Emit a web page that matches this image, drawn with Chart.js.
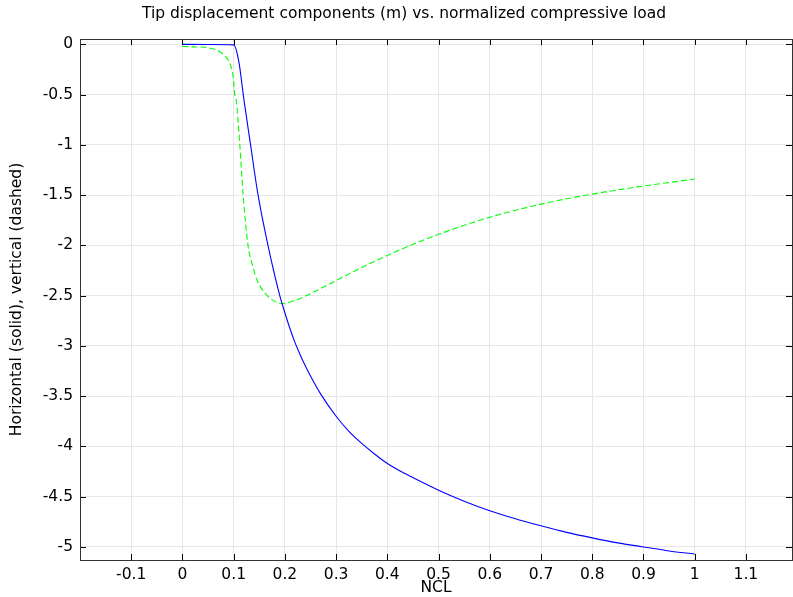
<!DOCTYPE html>
<html>
<head>
<meta charset="utf-8">
<script src="https://cdn.jsdelivr.net/npm/chart.js@4/dist/chart.umd.min.js"></script>
<style>
  html, body { margin: 0; padding: 0; background: #fff; }
  #wrap { width: 793px; height: 597px; position: relative; }
</style>
</head>
<body>
<div id="wrap"><canvas id="tipChart" width="793" height="597"></canvas></div>
<script>
// --- DATA ---
const ncl_h = [0, 0.05, 0.1, 0.11, 0.12, 0.133, 0.147, 0.167, 0.19, 0.2, 0.21, 0.22, 0.23, 0.24, 0.25, 0.27, 0.3, 0.325, 0.35, 0.375, 0.4, 0.425, 0.45, 0.5, 0.55, 0.6, 0.65, 0.7, 0.75, 0.8, 0.85, 0.9, 0.95, 1.0];
const horizontal = [0, -0.002, -0.005, -0.17, -0.55, -1.0, -1.48, -2.0, -2.5, -2.67, -2.83, -2.97, -3.09, -3.2, -3.3, -3.48, -3.7, -3.85, -3.97, -4.075, -4.17, -4.245, -4.31, -4.435, -4.545, -4.64, -4.72, -4.79, -4.855, -4.91, -4.96, -5.0, -5.04, -5.07];

const ncl_v = [0, 0.02, 0.048, 0.074, 0.087, 0.095, 0.099, 0.102, 0.105, 0.112, 0.1185, 0.128, 0.137, 0.146, 0.162, 0.175, 0.191, 0.2, 0.224, 0.25, 0.3, 0.35, 0.4, 0.45, 0.5, 0.6, 0.7, 0.8, 0.9, 1.0];
const vertical = [-0.02, -0.025, -0.033, -0.076, -0.14, -0.225, -0.325, -0.5, -0.56, -1.0, -1.5, -2.0, -2.2, -2.35, -2.48, -2.54, -2.578, -2.575, -2.54, -2.48, -2.35, -2.22, -2.1, -1.99, -1.89, -1.72, -1.59, -1.49, -1.41, -1.34];

const xTicks = [-0.1, 0, 0.1, 0.2, 0.3, 0.4, 0.5, 0.6, 0.7, 0.8, 0.9, 1, 1.1];
const yTicks = [0, -0.5, -1, -1.5, -2, -2.5, -3, -3.5, -4, -4.5, -5];

const TITLE = 'Tip displacement components (m) vs. normalized compressive load';
const X_LABEL = 'NCL';
const Y_LABEL = 'Horizontal (solid), vertical (dashed)';
const FONT = '"DejaVu Sans", sans-serif';
const FONT_SIZE = 15.5;

function toPoints(xs, ys) {
  return xs.map((x, i) => ({ x: x, y: ys[i] }));
}

function fmt(v) {
  return String(Math.round(v * 10) / 10);
}

// --- FRAME, INWARD TICKS, TEXT ---
const framePlugin = {
  id: 'frame',
  afterDatasetsDraw(chart) {
    const { ctx, chartArea: a, scales } = chart;
    ctx.save();
    ctx.strokeStyle = '#000';
    ctx.lineWidth = 1;
    ctx.beginPath();
    xTicks.forEach(v => {
      const px = Math.round(scales.x.getPixelForValue(v)) + 0.5;
      ctx.moveTo(px, a.bottom); ctx.lineTo(px, a.bottom - 6);
      ctx.moveTo(px, a.top); ctx.lineTo(px, a.top + 6);
    });
    yTicks.forEach(v => {
      const py = Math.round(scales.y.getPixelForValue(v)) + 0.5;
      ctx.moveTo(a.left, py); ctx.lineTo(a.left + 6, py);
      ctx.moveTo(a.right, py); ctx.lineTo(a.right - 6, py);
    });
    ctx.stroke();
    ctx.strokeStyle = '#333';
    ctx.strokeRect(Math.round(a.left) + 0.5, Math.round(a.top) + 0.5,
                   Math.round(a.right - a.left), Math.round(a.bottom - a.top));
    ctx.restore();
  },
  afterDraw(chart) {
    const { ctx, chartArea: a } = chart;
    ctx.save();
    ctx.fillStyle = '#000';
    ctx.font = FONT_SIZE + 'px ' + FONT;
    ctx.textAlign = 'center';
    ctx.textBaseline = 'middle';
    ctx.fillText(TITLE, 404, 14);
    ctx.fillText(X_LABEL, (a.left + a.right) / 2, 588);
    ctx.translate(17, (a.top + a.bottom) / 2);
    ctx.rotate(-Math.PI / 2);
    ctx.fillText(Y_LABEL, 0, 0);
    ctx.restore();
  }
};

// --- CHART ---
const ctx = document.getElementById('tipChart').getContext('2d');
const tipChart = new Chart(ctx, {
  type: 'scatter',
  data: {
    datasets: [
      {
        label: 'Horizontal',
        data: toPoints(ncl_h, horizontal),
        showLine: true,
        borderColor: '#0000ff',
        borderWidth: 1.1,
        pointRadius: 0,
        cubicInterpolationMode: 'monotone',
        order: 0
      },
      {
        label: 'Vertical',
        data: toPoints(ncl_v, vertical),
        showLine: true,
        borderColor: '#00ff00',
        borderWidth: 1.1,
        borderDash: [6, 3],
        pointRadius: 0,
        cubicInterpolationMode: 'monotone',
        order: 1
      }
    ]
  },
  options: {
    responsive: false,
    animation: false,
    devicePixelRatio: 1,
    layout: { padding: { top: 39, right: 1, left: 0, bottom: 0 } },
    plugins: {
      legend: { display: false },
      tooltip: { enabled: false },
      title: { display: false }
    },
    scales: {
      x: {
        type: 'linear',
        min: -0.2,
        max: 1.19,
        afterBuildTicks: s => { s.ticks = xTicks.map(v => ({ value: v })); },
        afterFit: s => { s.height = 37; },
        grid: { color: '#e6e6e6', lineWidth: 1, drawTicks: false },
        border: { display: false },
        ticks: {
          color: '#000',
          font: { family: FONT, size: FONT_SIZE },
          padding: 6,
          maxRotation: 0,
          autoSkip: false,
          callback: v => fmt(v)
        }
      },
      y: {
        type: 'linear',
        min: -5.13,
        max: 0.053,
        afterBuildTicks: s => { s.ticks = yTicks.map(v => ({ value: v })); },
        afterFit: s => { s.width = 80; },
        grid: { color: '#e6e6e6', lineWidth: 1, drawTicks: false },
        border: { display: false },
        ticks: {
          color: '#000',
          font: { family: FONT, size: FONT_SIZE },
          padding: 7,
          autoSkip: false,
          callback: v => fmt(v)
        }
      }
    }
  },
  plugins: [framePlugin]
});
</script>
</body>
</html>
